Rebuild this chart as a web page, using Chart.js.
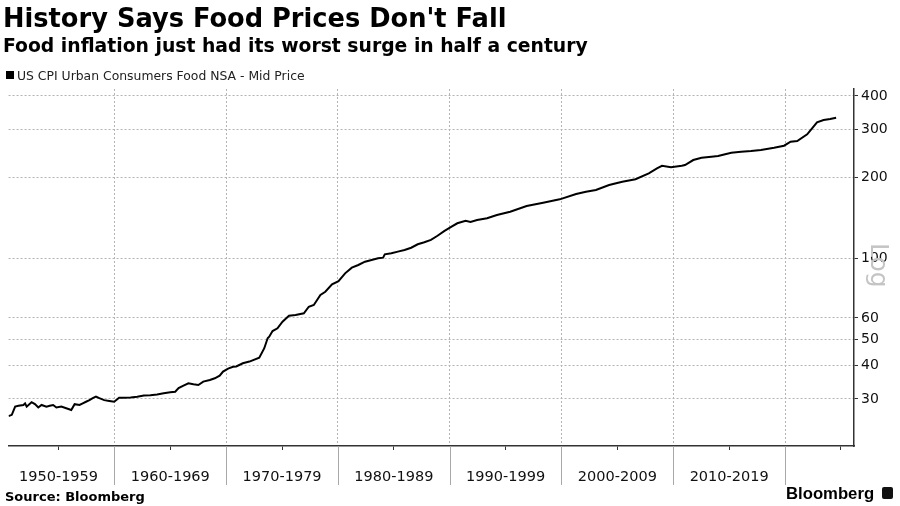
<!DOCTYPE html>
<html>
<head>
  <meta charset="UTF-8">
  <script src="https://cdn.jsdelivr.net/npm/chart.js"></script>
  <style>
    body { margin: 0; background: #fff; }
    .tela { position: relative; width: 900px; height: 506px; overflow: hidden; font-family: "DejaVu Sans", sans-serif; color: #000; }
    .tela canvas { position: absolute; left: 0; top: 0; }
    .titulo { position: absolute; left: 3px; top: 6px; font-size: 25.7px; line-height: 25.7px; font-weight: bold; white-space: nowrap; }
    .subtitulo { position: absolute; left: 3px; top: 37px; font-size: 18.8px; line-height: 18.8px; font-weight: bold; white-space: nowrap; }
    .legenda { position: absolute; left: 17px; top: 70px; font-size: 12.4px; line-height: 12.4px; color: #222; white-space: nowrap; }
    .legenda-cor { position: absolute; left: 6px; top: 71px; width: 8px; height: 8px; background: #000; }
    .log { position: absolute; font-size: 25px; line-height: 25px; color: #c4c4c4; transform: rotate(90deg); transform-origin: left top; left: 892px; top: 243px; }
    .fonte { position: absolute; left: 5px; top: 490px; font-size: 13px; line-height: 13px; font-weight: bold; white-space: nowrap; }
    .marca { position: absolute; left: 786px; top: 486px; font-family: "Liberation Sans", sans-serif; font-size: 16.7px; line-height: 16.7px; font-weight: bold; }
    .icone { position: absolute; left: 882px; top: 487px; width: 11px; height: 12px; background: #111; border-radius: 2px; }
  </style>
  <title>Food CPI</title>
</head>

<body>
  <div class="tela">
    <canvas id="grafico" width="900" height="506"></canvas>
    <div class="titulo">History Says Food Prices Don't Fall</div>
    <div class="subtitulo">Food inflation just had its worst surge in half a century</div>
    <div class="legenda-cor"></div>
    <div class="legenda">US CPI Urban Consumers Food NSA - Mid Price</div>
    <div class="log">Log</div>
    <div class="fonte">Source: Bloomberg</div>
    <div class="marca">Bloomberg</div>
    <div class="icone"></div>
  </div>

<script>
  // valores (ano decimal, indice)
  var anos = [
    1950.53, 1950.82, 1951.12, 1951.42, 1951.86, 1952.01, 1952.15, 1952.59, 1952.89, 1953.19,
    1953.48, 1953.92, 1954.22, 1954.52, 1954.81, 1955.25, 1955.69, 1956.14, 1956.44, 1956.88,
    1957.17, 1957.46, 1957.77, 1958.06, 1958.35, 1958.65, 1959.09, 1959.54, 1959.98, 1960.42,
    1960.87, 1961.45, 1962.04, 1962.64, 1963.22, 1963.82, 1964.41, 1965.00, 1965.44, 1965.74,
    1966.18, 1966.62, 1967.07, 1967.51, 1967.95, 1968.54, 1968.98, 1969.42, 1969.72, 1970.17,
    1970.61, 1970.90, 1971.49, 1972.08, 1972.96, 1973.41, 1973.71, 1973.85, 1974.15, 1974.59,
    1975.04, 1975.62, 1976.21, 1976.95, 1977.39, 1977.84, 1978.43, 1978.87, 1979.47, 1980.05,
    1980.64, 1981.24, 1981.82, 1982.42, 1983.01, 1983.59, 1984.04, 1984.19, 1984.78, 1985.36,
    1985.96, 1986.55, 1987.14, 1987.73, 1988.32, 1988.91, 1989.50, 1990.09, 1990.68, 1991.42,
    1991.86, 1992.45, 1993.34, 1994.22, 1995.41, 1996.88, 1998.36, 1999.84, 2001.31, 2002.19,
    2003.08, 2004.26, 2005.44, 2006.62, 2007.81, 2008.54, 2008.99, 2009.80, 2010.76, 2011.05,
    2011.79, 2012.53, 2013.41, 2014.01, 2015.19, 2016.07, 2016.96, 2017.84, 2019.02, 2019.91,
    2020.50, 2021.09, 2021.98, 2022.42, 2022.86, 2023.45, 2024.04, 2024.57
  ];

  var precos = [
    25.9, 26.2, 28.1, 28.3, 28.5, 28.9, 28.1, 29.2, 28.7, 27.9,
    28.5, 28.1, 28.3, 28.5, 27.9, 28.1, 27.7, 27.3, 28.7, 28.5,
    28.9, 29.3, 29.7, 30.2, 30.6, 30.2, 29.7, 29.5, 29.3, 30.3,
    30.3, 30.4, 30.6, 30.9, 31.0, 31.2, 31.5, 31.8, 31.9, 32.9,
    33.6, 34.3, 34.0, 33.8, 34.8, 35.3, 35.8, 36.6, 37.9, 38.9,
    39.5, 39.6, 40.7, 41.3, 42.7, 46.3, 50.4, 51.1, 53.6, 54.9,
    58.1, 61.1, 61.5, 62.4, 66.0, 67.0, 73.0, 75.0, 79.9, 82.1,
    87.8, 92.2, 94.3, 97.0, 98.4, 99.9, 100.4, 103.3, 104.2, 105.7,
    107.2, 109.3, 112.6, 114.5, 116.8, 121.1, 125.9, 130.3, 134.7, 137.7,
    136.2, 138.5, 140.6, 144.6, 148.7, 156.1, 160.6, 165.3, 173.0, 176.5,
    179.0, 186.9, 192.2, 196.2, 206.5, 215.5, 220.1, 217.6, 220.4, 221.7,
    231.3, 235.9, 238.0, 239.4, 246.2, 248.4, 249.9, 252.0, 257.0, 261.4,
    270.5, 272.1, 288.2, 303.3, 319.3, 325.6, 328.4, 332.1
  ];

  var ticksY = [30, 40, 50, 60, 100, 200, 300, 400];
  var ticksX = [1955, 1960, 1965, 1970, 1975, 1980, 1985, 1990, 1995, 2000, 2005, 2010, 2015, 2020, 2025];
  var decadas = [1960, 1970, 1980, 1990, 2000, 2010, 2020];
  var rotulosDecada = ['1950-1959', '1960-1969', '1970-1979', '1980-1989', '1990-1999', '2000-2009', '2010-2019', ''];

  var pontos = [];
  for (var i = 0; i < anos.length; i++) {
    pontos.push({ x: anos[i], y: precos[i] });
  }

  // linhas que separam as decadas abaixo do eixo
  const separadores = {
    id: 'separadores',
    afterDraw(chart) {
      const escala = chart.scales.x;
      const ctx = chart.ctx;
      const base = chart.chartArea.bottom;
      ctx.save();
      ctx.strokeStyle = '#a8a8a8';
      ctx.lineWidth = 1;
      decadas.forEach(function (d) {
        const px = Math.round(escala.getPixelForValue(d)) + 0.5;
        ctx.beginPath();
        ctx.moveTo(px, base);
        ctx.lineTo(px, base + 39);
        ctx.stroke();
      });
      ctx.restore();
    }
  };

  const config = {
    type: 'line',
    data: {
      datasets: [{
        label: 'US CPI Urban Consumers Food NSA - Mid Price',
        data: pontos,
        borderColor: '#000',
        borderWidth: 2,
        pointRadius: 0,
        tension: 0
      }]
    },
    options: {
      responsive: false,
      animation: false,
      layout: { padding: { top: 89, left: 0, right: 0, bottom: 0 } },
      plugins: {
        legend: { display: false },
        tooltip: { enabled: false }
      },
      scales: {
        x: {
          type: 'linear',
          min: 1950.53,
          max: 2026.17,
          afterBuildTicks: function (s) { s.ticks = ticksX.map(function (v) { return { value: v }; }); },
          afterFit: function (s) { s.height = 60; },
          grid: {
            color: function (c) { return c.tick && c.tick.value % 10 === 0 ? '#b4b4b4' : 'rgba(0,0,0,0)'; },
            tickColor: function (c) { return c.tick && c.tick.value % 10 === 5 ? '#333' : 'rgba(0,0,0,0)'; },
            tickLength: 4,
            lineWidth: 1
          },
          border: { display: true, color: '#333', width: 1.5, dash: [2, 2] },
          ticks: {
            autoSkip: false,
            maxRotation: 0,
            padding: 19,
            color: '#111',
            font: { family: 'DejaVu Sans', size: 14.5 },
            callback: function (v) {
              if (v % 10 !== 5) return '';
              return rotulosDecada[(v - 1955) / 10];
            }
          }
        },
        y: {
          type: 'logarithmic',
          position: 'right',
          min: 20.07,
          max: 424.5,
          afterBuildTicks: function (s) { s.ticks = ticksY.map(function (v) { return { value: v }; }); },
          afterFit: function (s) { s.width = 46; },
          grid: {
            color: '#b4b4b4',
            tickColor: '#333',
            tickLength: 4,
            lineWidth: 1
          },
          border: { display: true, color: '#333', width: 1.5, dash: [2, 2] },
          ticks: {
            padding: 3,
            color: '#111',
            font: { family: 'DejaVu Sans', size: 14 },
            callback: function (v) { return String(v); }
          }
        }
      }
    },
    plugins: [separadores]
  };

  const grafico = new Chart(document.getElementById('grafico'), config);
</script>
</body>
</html>
